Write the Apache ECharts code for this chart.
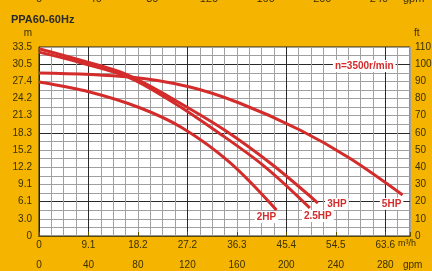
<!DOCTYPE html>
<html><head><meta charset="utf-8">
<script src="https://cdn.jsdelivr.net/npm/echarts@6/dist/echarts.min.js"></script>
<style>html,body{margin:0;padding:0;background:#F4B400;}#c{width:432px;height:271px;}</style>
</head><body><div id="c"></div>
<script>
// Head axis: feet (right) and metres (left)
const headTicksFt = [0,10,20,30,40,50,60,70,80,90,100,110];
const headLabelsM = ['0','3.0','6.1','9.1','12.2','15.2','18.3','21.3','24.2','27.4','30.5','33.5'];
// Flow axis: gpm and m3/h
const flowTicksGpm = [0,40,80,120,160,200,240,280];
const flowLabelsM3h = ['0','9.1','18.2','27.2','36.3','45.4','54.5','63.6'];
const topFlowLabels = ['0','40','80','120','160','200','240'];
// Curves [gpm, ft]
const curve2HP  = [[0,89.6],[41,83.8],[82,74.5],[116,62.9],[154,43],[192,15.1]];
const curve25HP = [[0,107],[33,101],[72,92.5],[108,78],[142,61.7],[182,40.7],[219,16.3]];
const curve3HP  = [[0,109],[33,102.4],[72,93.7],[111,78.6],[150,61.7],[188,41.9],[225.5,19.2]];
const curve5HP  = [[0,94.9],[74,92.5],[122,86.7],[162,77.4],[211,61.7],[251,45.4],[294,23.9]];
const speedNote = 'n=3500r/min';
const speedNoteAt = [263, 99];

const RED = '#D42B2B';
const TXT = '#3a3000';
const light = '#a0a0a0', dark = '#2a2a2a';
const cyc = [light,light,light,light,dark,light,light,light];

function lbl(text, off){
  return {show:true, position:'inside', offset:off, formatter:text,
      color:RED, fontWeight:'bold', fontSize:10, fontFamily:'Liberation Sans', backgroundColor:'#fff', padding:[1,2]};
}
function endLabel(data, text, off){
  return {symbol:'circle', symbolSize:1, itemStyle:{color:'rgba(0,0,0,0)'},
    data:[{coord:data[data.length-1], label:lbl(text, off)}]};
}
function curve(name, data, mp){
  return {name, type:'line', data, smooth:0.35, showSymbol:false, xAxisIndex:0, yAxisIndex:0,
    lineStyle:{color:RED, width:3}, markPoint:mp, z:5};
}

const chart = echarts.init(document.getElementById('c'), null, {renderer:'canvas'});
const font = {fontSize:10, fontFamily:'Liberation Sans', color:TXT};
function txt(t, x, y, align, size){
  return {type:'text', x, y, style:{text:t, fill:TXT, font:(size||10)+'px "Liberation Sans"', textAlign:align||'left', textVerticalAlign:'middle'}};
}
chart.setOption({
  animation:false,
  backgroundColor:'#F4B400',
  title:{text:'PPA60-60Hz', left:6, top:9, textStyle:{fontSize:11, fontWeight:'bold', color:'#2a2a2a', fontFamily:'Liberation Sans'}},
  grid:[
    {left:39, right:22, top:47, bottom:35, show:true, backgroundColor:'#fff', borderColor:'#222', borderWidth:1, outerBoundsMode:'none', containLabel:false},
    {left:39, width:368.3, top:-31, height:20, outerBoundsMode:'none', containLabel:false}
  ],
  graphic:[
    txt('m', 28, 33, 'center'),
    txt('ft', 414, 33, 'left'),
    txt('m³/h', 398, 244, 'left', 9),
    txt('gpm', 403, 265, 'left'),
    txt('gpm', 403, -1, 'left', 11)
  ],
  xAxis:[
    {type:'value', gridIndex:0, min:0, max:300, interval:40, position:'bottom',
     axisLine:{show:true, lineStyle:{color:'#222'}}, axisTick:{show:false}, splitLine:{show:false},
     axisLabel:{...font, margin:4, formatter:v=>{const i=flowTicksGpm.indexOf(v); return i<0?'':flowLabelsM3h[i];}}},
    {type:'value', gridIndex:0, min:0, max:300, interval:40, position:'bottom', offset:17,
     axisLine:{show:true, lineStyle:{color:'#5a4a00', width:1}}, axisTick:{show:true, inside:true, length:4, lineStyle:{color:'#5a4a00'}},
     splitLine:{show:false},
     axisLabel:{...font, margin:7, formatter:v=>flowTicksGpm.indexOf(v)<0?'':String(v)}},
    {type:'value', gridIndex:0, min:0, max:300, interval:10, show:true,
     axisLine:{show:false}, axisTick:{show:false}, axisLabel:{show:false},
     splitLine:{show:true, lineStyle:{color:cyc, width:1}}},
    {type:'value', gridIndex:1, min:0, max:260, interval:40, position:'bottom',
     axisLine:{show:false}, axisTick:{show:false}, splitLine:{show:false},
     axisLabel:{...font, fontSize:11, margin:4, formatter:v=>topFlowLabels.indexOf(String(v))<0?'':String(v)}}
  ],
  yAxis:[
    {type:'value', gridIndex:0, min:0, max:110, interval:10, position:'left',
     axisLine:{show:true, lineStyle:{color:'#222'}}, axisTick:{show:false}, splitLine:{show:false},
     axisLabel:{...font, margin:7, formatter:v=>{const i=headTicksFt.indexOf(v); return i<0?'':headLabelsM[i];}}},
    {type:'value', gridIndex:0, min:0, max:110, interval:10, position:'right',
     axisLine:{show:false}, axisTick:{show:false}, splitLine:{show:false},
     axisLabel:{...font, margin:5}},
    {type:'value', gridIndex:0, min:0, max:110, interval:5, show:true,
     axisLine:{show:false}, axisTick:{show:false}, axisLabel:{show:false},
     splitLine:{show:true, lineStyle:{color:cyc, width:1}}},
    {type:'value', gridIndex:1, min:0, max:1, show:false}
  ],
  series:[
    curve('2HP', curve2HP, endLabel(curve2HP, '2HP', [-10, 7])),
    curve('2.5HP', curve25HP, endLabel(curve25HP, '2.5HP', [8, 8])),
    curve('3HP', curve3HP, endLabel(curve3HP, '3HP', [19, 1])),
    curve('5HP', curve5HP, {symbol:'circle', symbolSize:1, itemStyle:{color:'rgba(0,0,0,0)'},
      data:[
        {coord:curve5HP[curve5HP.length-1], label:lbl('5HP', [-11, 9])},
        {coord:speedNoteAt, label:lbl(speedNote, [0, 0])}
      ]}),
    {type:'line', data:[], xAxisIndex:3, yAxisIndex:3}
  ]
});
</script></body></html>
